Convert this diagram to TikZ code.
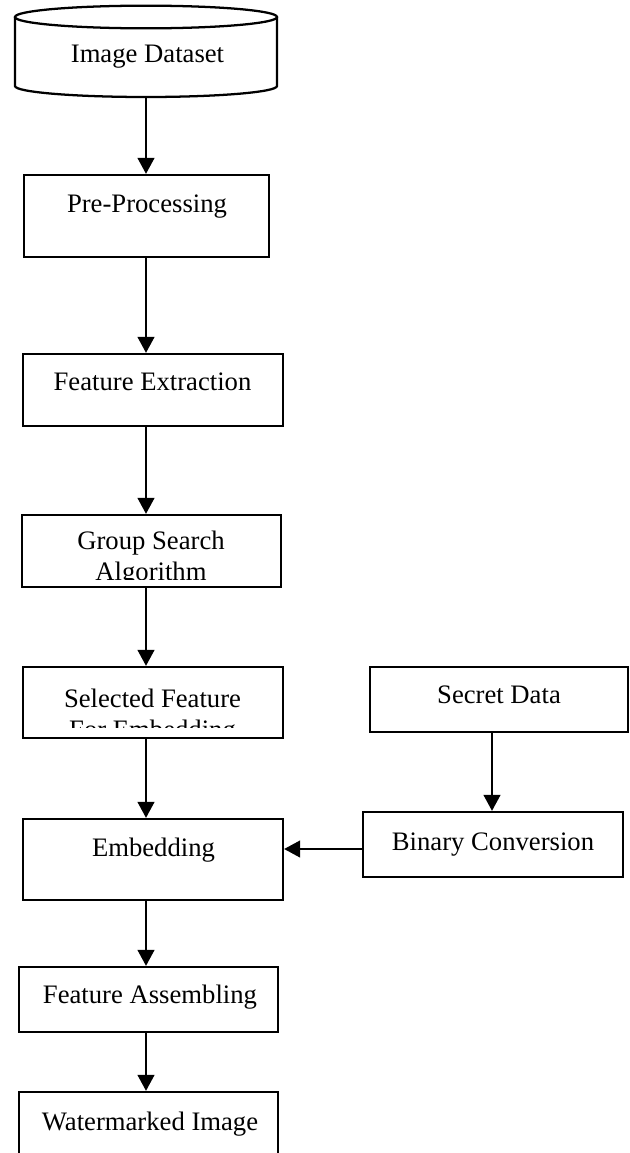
\documentclass[tikz,border=0pt]{standalone}
\usepackage{fontspec}
\setmainfont{Liberation Serif}
\usetikzlibrary{arrows.meta,fit}
\begin{document}
\begin{tikzpicture}[x=0.75pt,y=-0.75pt,
  line/.style={line width=1.7pt},
  box/.style={draw, line width=1.7pt, inner sep=0pt},
  ghost/.style={inner sep=0pt},
  txt/.style={anchor=base, inner sep=0pt, font=\fontsize{20}{24}\selectfont},
  arr/.style={line width=1.7pt, -{Triangle[length=12pt,width=12.5pt]}}]
\clip (0,0) rectangle (629,1153);
% cylinder
\node[ghost, fit={(15,6)(277,97)}] (ds) {};
\draw[line] (15,17) -- (15,86) arc[start angle=180, end angle=360, x radius=98.25pt, y radius=8.25pt] -- (277,17);
\draw[line] (146,17) ellipse[x radius=98.25pt, y radius=8.5pt];
\node[txt] (tds) at (147.5,62) {Image Dataset};
% boxes
\node[box, fit={(24,175)(269,257)}] (pp) {};
\node[txt] (tpp) at (147,212) {Pre-Processing};
\node[box, fit={(23,354)(283,426)}] (fe) {};
\node[txt] (tfe) at (152.5,390) {Feature Extraction};
\node[box, fit={(22,515)(281,587)}] (gs) {};
\node[txt] (tgs) at (151,549) {Group Search};
\begin{scope}
\clip (22,515) rectangle (281,579);
\node[txt] (tgs2) at (151,580) {Algorithm};
\end{scope}
\node[box, fit={(23,667)(283,738)}] (sf) {};
\node[txt] (tsf) at (152.5,707) {Selected Feature};
\begin{scope}
\clip (23,667) rectangle (283,727);
\node[txt] (tsf2) at (152.5,738) {For Embedding};
\end{scope}
\node[box, fit={(23,819)(283,900)}] (em) {};
\node[txt] (tem) at (153.5,856) {Embedding};
\node[box, fit={(19,967)(278,1032)}] (fa) {};
\node[txt] (tfa) at (150,1003) {Feature Assembling};
\node[box, fit={(19,1092)(278,1165)}] (wm) {};
\node[txt] (twm) at (150,1130) {Watermarked Image};
\node[box, fit={(370,667)(628,732)}] (sd) {};
\node[txt] (tsd) at (499,703) {Secret Data};
\node[box, fit={(363,812)(623,877)}] (bc) {};
\node[txt] (tbc) at (493,850) {Binary Conversion};
% connectors
\coordinate (ax) at (146,0);
\coordinate (bx) at (492,0);
\coordinate (hy) at (0,849);
\draw[arr] (ds.south -| ax) -- (pp.north -| ax);
\draw[arr] (pp.south -| ax) -- (fe.north -| ax);
\draw[arr] (fe.south -| ax) -- (gs.north -| ax);
\draw[arr] (gs.south -| ax) -- (sf.north -| ax);
\draw[arr] (sf.south -| ax) -- (em.north -| ax);
\draw[arr] (em.south -| ax) -- (fa.north -| ax);
\draw[arr] (fa.south -| ax) -- (wm.north -| ax);
\draw[arr] (sd.south -| bx) -- (bc.north -| bx);
\draw[arr] (bc.west |- hy) -- (em.east |- hy);
\end{tikzpicture}
\end{document}
